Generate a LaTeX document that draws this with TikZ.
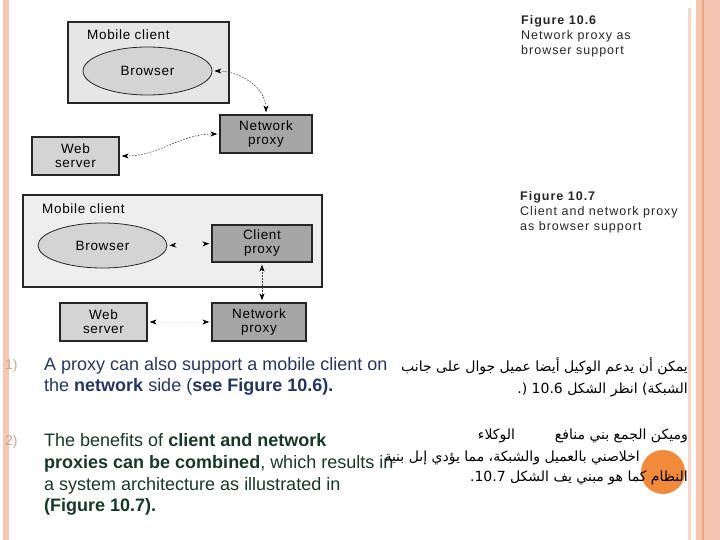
\documentclass[tikz,border=0pt]{standalone}
\usepackage{fontspec}
\setmainfont{Liberation Sans}
\newfontfamily\arabicfont[Script=Arabic]{DejaVu Sans}
\newfontfamily\figfont[LetterSpace=5]{Liberation Sans}
\newfontfamily\capfont[LetterSpace=8]{Liberation Sans}
\TeXXeTstate=1
\usetikzlibrary{arrows.meta,shapes.geometric}

\definecolor{stripe}{HTML}{F6C6B2}
\definecolor{stripedark}{HTML}{EFA47E}
\definecolor{navytext}{HTML}{25365E}
\definecolor{greentext}{HTML}{173826}
\definecolor{numtext}{HTML}{C9A48E}
\definecolor{dotorange}{HTML}{F28A3C}
\definecolor{clientfill}{HTML}{E6E6E6}
\definecolor{clientfillb}{HTML}{EEEEEE}
\definecolor{lightbox}{HTML}{D4D4D4}
\definecolor{darkbox}{HTML}{A6A6A6}

\tikzset{
  figbox/.style={draw=black!85, line width=1.3pt, align=center,
    font=\figfont\fontsize{13.5}{14}\selectfont},
  clientbox/.style={figbox, fill=clientfill},
  serverbox/.style={figbox, fill=lightbox},
  proxybox/.style={figbox, fill=darkbox},
  browser/.style={ellipse, draw=black!85, line width=0.8pt, fill=lightbox,
    font=\figfont\fontsize{13.5}{14}\selectfont},
  figlabel/.style={font=\figfont\fontsize{13.5}{14}\selectfont},
  link/.style={draw=black!75, line width=0.6pt, dash pattern=on 1.6pt off 1.4pt,
    {Stealth[length=7pt,width=5pt,black]}-{Stealth[length=7pt,width=5pt,black]},
    shorten <=2pt, shorten >=2pt},
  ghostlink/.style={link, draw=black!8},
  caption/.style={align=left, font=\capfont\fontsize{12.5}{15}\selectfont, text=black!85},
  numlabel/.style={font=\fontsize{14}{16}\selectfont, text=numtext},
  entext/.style={font=\fontsize{18}{21}\selectfont},
  artext/.style={font=\arabicfont\fontsize{14}{16}\selectfont}
}

\begin{document}
\begin{tikzpicture}[x=1pt, y=-1pt, every node/.style={inner sep=0pt}]
  \useasboundingbox (0,0) rectangle (720,540);

  % ==================== 页面边框 ====================
  \fill[stripe] (3,0) rectangle (9,540);
  \fill[stripe!70] (688,8) rectangle (691,540);
  \fill[stripe] (696,0) rectangle (720,540);
  \fill[stripedark] (702,0) rectangle (703.5,540);

  % ==================== Figure 10.6 ====================
  \node[clientbox, minimum width=161, minimum height=81] (mcA) at (148.5,62.5) {};
  \node[figlabel, anchor=west] (mcAlabel) at (87,35) {Mobile client};
  \node[browser, minimum width=129, minimum height=48] (brA) at (147.5,71) {Browser};
  \node[proxybox, minimum width=92, minimum height=38] (npA) at (266,134) {Network\\proxy};
  \node[serverbox, minimum width=87, minimum height=38] (wsA) at (75.5,156) {Web\\server};

  \draw[link] (brA.east) to[out=0, in=90] (npA.north);
  \draw[link] (wsA.east) to[out=0, in=180] (npA.west);

  \node[caption, anchor=north west] (capA) at (521,15)
    {\textbf{Figure 10.6}\\Network proxy as\\browser support};

  % ==================== Figure 10.7 ====================
  \node[clientbox, fill=clientfillb, minimum width=299, minimum height=92] (mcB) at (172.5,241) {};
  \node[figlabel, anchor=west] (mcBlabel) at (42,209) {Mobile client};
  \node[browser, minimum width=129, minimum height=45] (brB) at (102.5,245.5) {Browser};
  \node[proxybox, minimum width=100, minimum height=37] (cpB) at (262,243.5) {Client\\proxy};
  \node[proxybox, minimum width=94, minimum height=38] (npB) at (259,322) {Network\\proxy};
  \node[serverbox, minimum width=87, minimum height=38] (wsB) at (103.5,322) {Web\\server};

  \draw[ghostlink] (brB.east) -- (cpB.west);
  \draw[ghostlink] (wsB.east) -- (npB.west);
  \draw[link] (cpB.south) -- (cpB.south |- npB.north);

  \node[caption, anchor=north west] (capB) at (520,191)
    {\textbf{Figure 10.7}\\Client and network proxy\\as browser support};

  % ==================== 英文正文 ====================
  \node[numlabel, anchor=base west] (numA) at (5,369) {1)};
  \node[entext, text=navytext, anchor=base west] (txtAa) at (44,370)
    {A proxy can also support a mobile client on};
  \node[entext, text=navytext, anchor=base west] (txtAb) at (44,391)
    {the \textbf{network} side (\textbf{see Figure 10.6).}};
  \node[numlabel, anchor=base west] (numB) at (5,445) {2)};
  \node[entext, text=greentext, anchor=base west] (txtBa) at (44,446)
    {The benefits of \textbf{client and network}};
  \node[entext, text=greentext, anchor=base west] (txtBb) at (44,468)
    {\textbf{proxies can be combined}, which results in};
  \node[entext, text=greentext, anchor=base west] (txtBc) at (44,490)
    {a system architecture as illustrated in};
  \node[entext, text=greentext, anchor=base west] (txtBd) at (44,511)
    {\textbf{(Figure 10.7).}};

  % ==================== 阿拉伯文正文 ====================
  \fill[dotorange] (663,472) circle (22);
  \node[artext, anchor=base east] (arAa) at (688,371)
    {\beginR يمكن أن يدعم الوكيل أيضا عميل جوال على جانب\endR};
  \node[artext, anchor=base east] (arAb) at (688,393)
    {\beginR الشبكة) انظر الشكل \beginL10.6\endL{} (.\endR};
  \node[artext, anchor=base east] (arBa) at (688,439)
    {\beginR وميكن الجمع بني منافع\hspace{40pt}الوكلاء\endR};
  \node[artext, anchor=base east] (arBb) at (640,461)
    {\beginR اخلاصني بالعميل والشبكة، مما يؤدي إىل بنية\endR};
  \node[artext, anchor=base east] (arBc) at (688,481)
    {\beginR النظام كما هو مبني يف الشكل \beginL10.7\endL.\endR};
\end{tikzpicture}
\end{document}
